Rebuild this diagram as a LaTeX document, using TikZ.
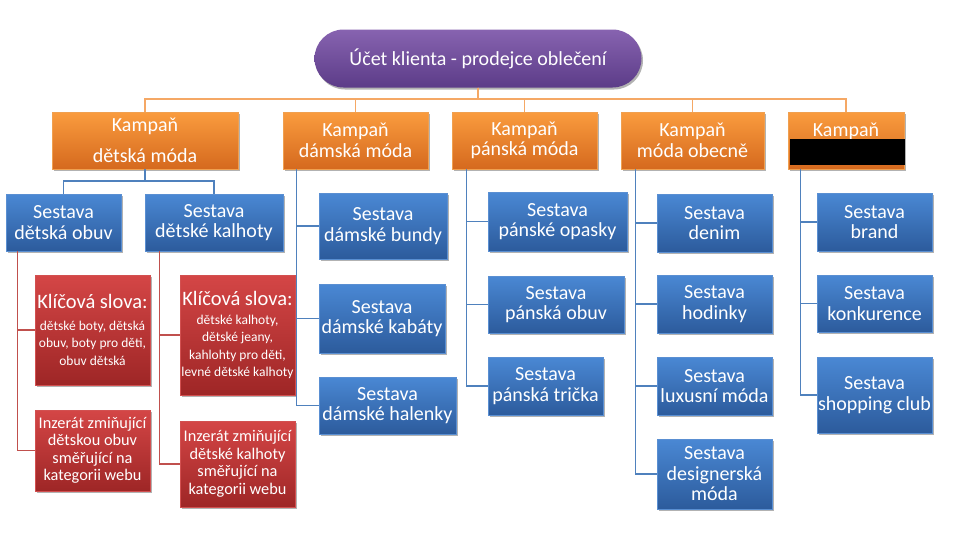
\documentclass[tikz,border=0pt]{standalone}
\usepackage{fontspec}
\setmainfont{Carlito}
\usetikzlibrary{shadows,calc}
\definecolor{BlueTop}{HTML}{4A88D4}
\definecolor{BlueBot}{HTML}{2C5B9C}
\definecolor{BlueEdge}{HTML}{5A8FD2}
\definecolor{OrTop}{HTML}{FA9C3E}
\definecolor{OrBot}{HTML}{D5691E}
\definecolor{OrEdge}{HTML}{F0A050}
\definecolor{RedTop}{HTML}{D44646}
\definecolor{RedBot}{HTML}{9E2626}
\definecolor{RedEdge}{HTML}{D25050}
\definecolor{PurTop}{HTML}{8763B0}
\definecolor{PurBot}{HTML}{5C3C88}
\definecolor{OLine}{HTML}{F5A865}
\definecolor{BLine}{HTML}{4F81BD}
\definecolor{RLine}{HTML}{C0504D}
\newcommand\kwhd{\fontsize{20.5}{22}\selectfont}
\newcommand\kwsm{\fontsize{13.5}{13.5}\selectfont}
\newcommand\kwsmb{\fontsize{13.5}{14.3}\selectfont}
\begin{document}
\begin{tikzpicture}[x=1pt,y=-1pt,
  wh/.style 2 args={minimum width=#1pt, minimum height=#2pt},
  box/.style={rectangle, text=white, align=center, inner sep=1pt,
    drop shadow={shadow xshift=1.5pt, shadow yshift=-2pt, opacity=0.3, fill=black}},
  bluebox/.style={box, top color=BlueTop, bottom color=BlueBot, draw=BlueEdge, line width=0.5pt, font=\fontsize{20}{20.5}\selectfont},
  orbox/.style={box, top color=OrTop, bottom color=OrBot, draw=OrEdge, line width=0.5pt, font=\fontsize{20}{20.5}\selectfont},
  redbox/.style={box, top color=RedTop, bottom color=RedBot, draw=RedEdge, line width=0.5pt, font=\fontsize{16.3}{17.5}\selectfont},
  titlebox/.style={rectangle, rounded corners=29pt, text=white, top color=PurTop, bottom color=PurBot, draw=none,
    drop shadow={shadow xshift=1.5pt, shadow yshift=-2pt, opacity=0.3, fill=black}, font=\fontsize{20}{20}\selectfont},
  oline/.style={draw=OLine, line width=1.3pt},
  bline/.style={draw=BLine, line width=1.3pt},
  rline/.style={draw=RLine, line width=1.3pt}
]
\useasboundingbox (0,0) rectangle (958,539);

% title
\node[titlebox, wh={327}{58}] (title) at (478,58.5) {Účet klienta - prodejce oblečení};

% campaigns
\node[orbox, wh={186}{57}] (k1) at (145,140.5) {Kampaň\\[10pt]dětská móda};
\node[orbox, wh={145}{57}] (k2) at (355.5,140.5) {Kampaň\\dámská móda};
\node[orbox, wh={145}{57}] (k3) at (524.5,140.5) {Kampaň\\pánská móda};
\node[orbox, wh={143}{57}] (k4) at (692.5,140.5) {Kampaň\\móda obecně};
\node[orbox, wh={116}{57}] (k5) at (846,140.5) {Kampaň\\\phantom{móda}};
\node[fill=black, inner sep=0pt, wh={115}{26}] (redact) at (847.5,152) {};

% sets
\node[bluebox, wh={115}{57}] (s1) at (63.5,222.5) {Sestava\\dětská obuv};
\node[bluebox, wh={138}{57}] (s2) at (214,222.5) {Sestava\\dětské kalhoty};

\node[bluebox, wh={128}{66}] (d1) at (383,226) {Sestava\\dámské bundy};
\node[bluebox, wh={126}{69}] (d2) at (382,318.5) {Sestava\\dámské kabáty};
\node[bluebox, wh={137}{57}] (d3) at (387.5,405.5) {Sestava\\dámské halenky};

\node[bluebox, wh={139}{59}] (p1) at (557.5,221.5) {Sestava\\pánské opasky};
\node[bluebox, wh={136}{57}] (p2) at (556,304.5) {Sestava\\pánská obuv};
\node[bluebox, wh={115}{58}] (p3) at (545.5,386) {Sestava\\pánská trička};

\node[bluebox, wh={115}{58}] (o1) at (714.5,223) {Sestava\\denim};
\node[bluebox, wh={115}{58}] (o2) at (714.5,304) {Sestava\\hodinky};
\node[bluebox, wh={115}{58}] (o3) at (714.5,386) {Sestava\\luxusní móda};
\node[bluebox, wh={115}{70}] (o4) at (714.5,474) {Sestava\\designerská\\móda};

\node[bluebox, wh={115}{58}] (b1) at (874.5,222) {Sestava\\brand};
\node[bluebox, wh={115}{57}] (b2) at (874.5,303.5) {Sestava\\konkurence};
\node[bluebox, wh={115}{76}] (b3) at (874.5,395) {Sestava\\shopping club};

% red boxes
\node[redbox, wh={115}{110}] (r1) at (92.5,330) {\kwhd Klíčová slova:\\[4pt]\kwsm dětské boty, dětská\\\kwsm obuv, boty pro děti,\\\kwsm obuv dětská};
\node[redbox, wh={115}{81}] (r2) at (92.5,450.5) {Inzerát zmiňující\\dětskou obuv\\směřující na\\kategorii webu};
\node[redbox, wh={115}{120}] (r3) at (237.5,335) {\kwhd Klíčová slova:\\[1pt]\kwsmb dětské kalhoty,\\\kwsmb dětské jeany,\\\kwsmb kahlohty pro děti,\\\kwsmb levné dětské kalhoty};
\node[redbox, wh={115}{86}] (r4) at (237.5,464) {Inzerát zmiňující\\dětské kalhoty\\směřující na\\kategorii webu};

% orange connectors
\coordinate (obus) at (0,99);
\foreach \k in {k1,k2,k3,k4,k5}
  \draw[oline] (title.south) -- (title.south |- obus) -| (\k.north);

% blue connectors
\coordinate (k1bus) at (0,181);
\foreach \s in {s1,s2}
  \draw[bline] (k1.south) -- (k1.south |- k1bus) -| (\s.north);
\coordinate (k2v) at ([xshift=14pt]k2.south west);
\foreach \s in {d1,d2,d3} \draw[bline] (k2v) |- (\s.west);
\coordinate (k3v) at ([xshift=15pt]k3.south west);
\foreach \s in {p1,p2,p3} \draw[bline] (k3v) |- (\s.west);
\coordinate (k4v) at ([xshift=15pt]k4.south west);
\foreach \s in {o1,o2,o3,o4} \draw[bline] (k4v) |- (\s.west);
\coordinate (k5v) at ([xshift=13pt]k5.south west);
\foreach \s in {b1,b2,b3} \draw[bline] (k5v) |- (\s.west);

% red connectors
\coordinate (s1v) at ([xshift=12pt]s1.south west);
\foreach \s in {r1,r2} \draw[rline] (s1v) |- (\s.west);
\coordinate (s2v) at ([xshift=15pt]s2.south west);
\foreach \s in {r3,r4} \draw[rline] (s2v) |- (\s.west);
\end{tikzpicture}
\end{document}
